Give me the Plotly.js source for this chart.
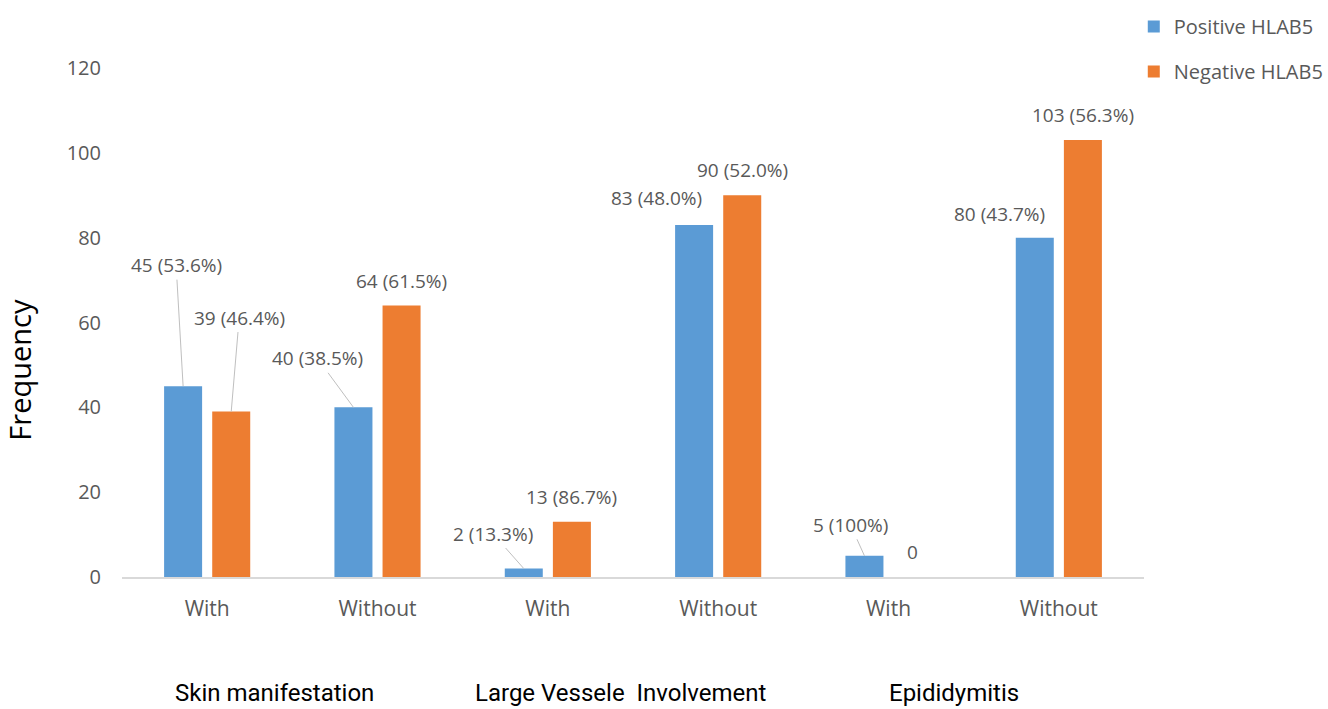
<!DOCTYPE html>
<html>
<head>
<meta charset="utf-8">
<script src="https://cdn.plot.ly/plotly-3.0.1.min.js"></script>
<style>
  html, body { margin: 0; padding: 0; background: #ffffff; }
  #chart { width: 1328px; height: 709px; }
</style>
</head>
<body>
<div id="chart"></div>
<script>
// Tick labels under each bar pair, and the clinical feature each pair belongs to
const tickLabels = ['With', 'Without', 'With', 'Without', 'With', 'Without'];
const groupLabels = ['Skin manifestation', 'Large Vessele  Involvement', 'Epididymitis'];

// Patient counts per HLA-B5 status
const positiveCounts = [45, 40, 2, 83, 5, 80];
const negativeCounts = [39, 64, 13, 90, 0, 103];

// Share of each row that the count represents (null = no percentage shown)
const positivePct = ['53.6%', '38.5%', '13.3%', '48.0%', '100%', '43.7%'];
const negativePct = ['46.4%', '61.5%', '86.7%', '52.0%', null, '56.3%'];

const seriesNames = ['Positive HLAB5', 'Negative HLAB5'];
const yTicks = [0, 20, 40, 60, 80, 100, 120];

const positions = tickLabels.map((_, i) => i);

const BLUE = '#5b9bd5';
const ORANGE = '#ed7d31';
const GREY_TEXT = '#595959';
const LABEL_FONT = { family: 'Open Sans, sans-serif', size: 19, color: GREY_TEXT };

const BARGAP = 0.435;
const BARGROUPGAP = 0.21;
// centre offset of each bar within its pair, in axis units
const halfSlot = (1 - BARGAP) / 4;

const traces = [
  {
    type: 'bar', name: seriesNames[0], x: positions, y: positiveCounts,
    marker: { color: BLUE }, legendgroup: 'pos', hoverinfo: 'y'
  },
  {
    type: 'bar', name: seriesNames[1], x: positions, y: negativeCounts,
    marker: { color: ORANGE }, legendgroup: 'neg', hoverinfo: 'y'
  }
];

function labelText(v, pct) {
  return pct ? v + ' (' + pct + ')' : String(v);
}

// Label placement per bar: plain labels sit above the bar; others are
// pulled aside, with a thin leader line back to the bar top when needed.
const positivePlacement = [
  { ax: -7, ay: -121, leader: true },
  { ax: -36, ay: -49, leader: true },
  { ax: -31, ay: -35, leader: true },
  { dx: -38, dy: 27 },
  { ax: -14, ay: -31, leader: true },
  { dx: -35, dy: 24 }
];
const negativePlacement = [
  { ax: 8, ay: -94, leader: true },
  { dy: 25 },
  { dy: 25 },
  { dy: 25 },
  { dy: 25 },
  { dy: 25 }
];

function barAnnotations(counts, pcts, placement, sign) {
  return counts.map((v, i) => {
    const p = placement[i];
    const base = {
      x: positions[i] + sign * halfSlot, y: v, xref: 'x', yref: 'y',
      text: labelText(v, pcts[i]), font: LABEL_FONT
    };
    if (p.leader) {
      return Object.assign(base, {
        showarrow: true, arrowhead: 0, arrowwidth: 1, arrowcolor: '#bfbfbf',
        ax: p.ax, ay: p.ay, standoff: 0
      });
    }
    return Object.assign(base, {
      showarrow: false, xanchor: 'center', yanchor: 'middle',
      xshift: p.dx || 0, yshift: p.dy || 0
    });
  });
}

const groupPositions = [0.398, 2.424, 4.385];
const groupAnnotations = groupLabels.map((g, i) => ({
  x: groupPositions[i], y: -0.228, xref: 'x', yref: 'paper',
  text: g, showarrow: false, xanchor: 'center', yanchor: 'middle',
  font: { family: 'Roboto, sans-serif', size: 24, color: '#000000' }
}));

const yTitle = {
  x: -0.1, y: 0.407, xref: 'paper', yref: 'paper',
  text: 'Frequency', textangle: -90, showarrow: false,
  xanchor: 'center', yanchor: 'middle',
  font: { family: 'Open Sans, sans-serif', size: 29, color: '#000000' }
};

const layout = {
  width: 1328, height: 709,
  margin: { l: 122, r: 184, t: 68, b: 132, autoexpand: false },
  paper_bgcolor: '#ffffff', plot_bgcolor: '#ffffff',
  barmode: 'group', bargap: BARGAP, bargroupgap: BARGROUPGAP,
  font: { family: 'Open Sans, sans-serif', color: GREY_TEXT },
  showlegend: true,
  legend: {
    x: 0.99, y: 1.12, xanchor: 'left', yanchor: 'top',
    font: { family: 'Open Sans, sans-serif', size: 20, color: GREY_TEXT },
    traceorder: 'grouped', tracegroupgap: 16,
    bgcolor: 'rgba(0,0,0,0)'
  },
  xaxis: {
    range: [-0.5, 5.5], tickmode: 'array', tickvals: positions, ticktext: tickLabels,
    showgrid: false, zeroline: false, showline: true, linecolor: '#d9d9d9', linewidth: 2,
    ticks: '', ticklabelstandoff: 12,
    tickfont: { family: 'Open Sans, sans-serif', size: 21, color: GREY_TEXT },
    fixedrange: true
  },
  yaxis: {
    range: [0, 120], tickmode: 'array', tickvals: yTicks,
    showgrid: false, zeroline: false, showline: false,
    ticks: '', ticklabelstandoff: 20,
    tickfont: { family: 'Open Sans, sans-serif', size: 20, color: GREY_TEXT },
    fixedrange: true
  },
  annotations: []
    .concat(barAnnotations(positiveCounts, positivePct, positivePlacement, -1))
    .concat(barAnnotations(negativeCounts, negativePct, negativePlacement, 1))
    .concat(groupAnnotations)
    .concat([yTitle])
};

Plotly.newPlot('chart', traces, layout, { displayModeBar: false, staticPlot: true });
</script>
</body>
</html>
